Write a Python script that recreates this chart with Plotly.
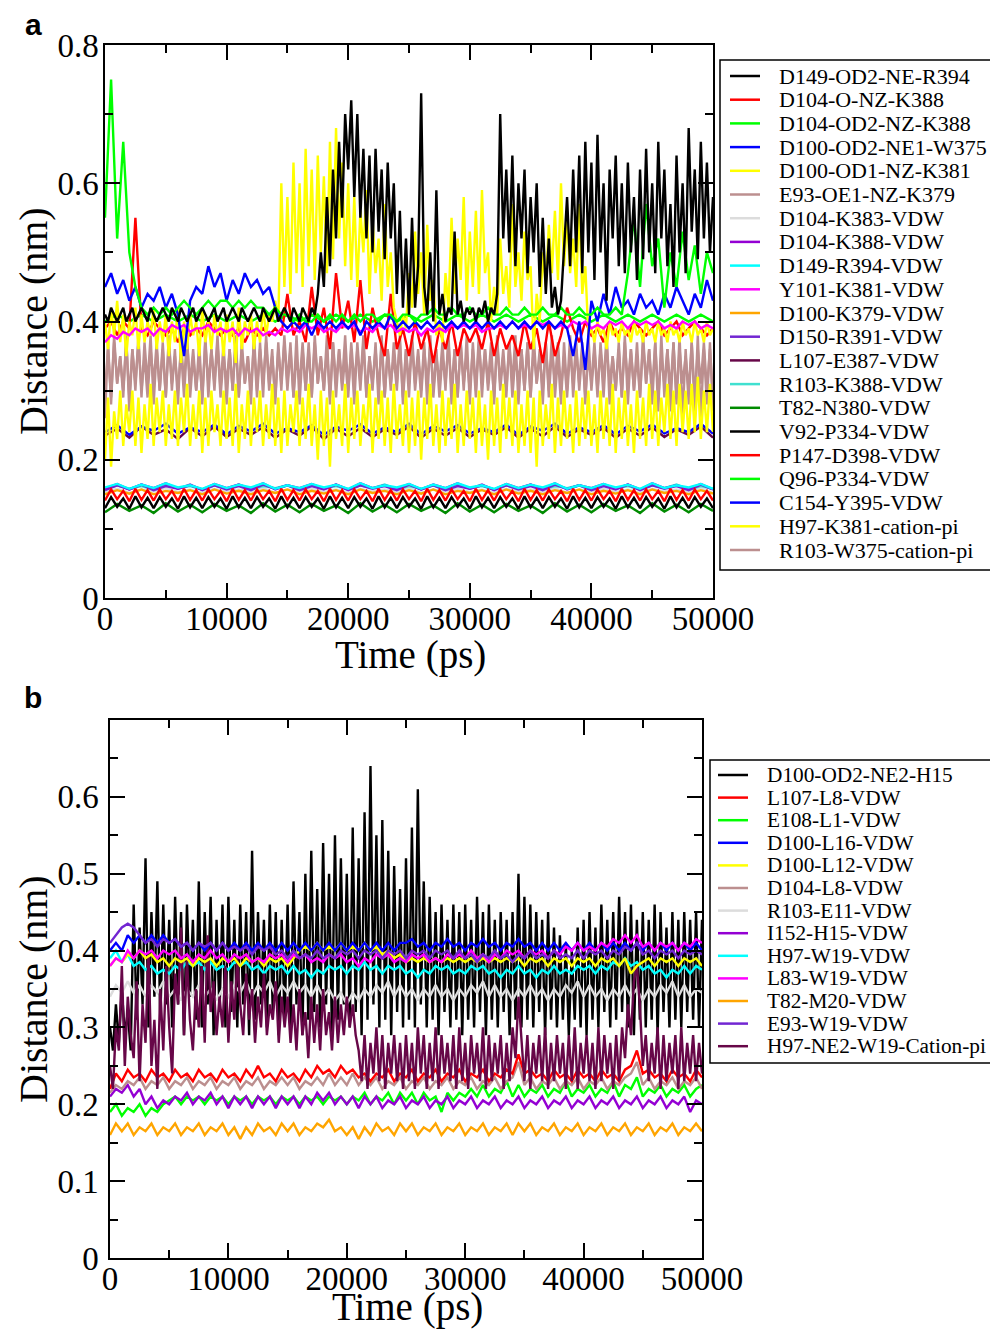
import plotly.graph_objects as go

# the page puts the figure 8 px in from the window corner
OFF = 8
FW, FH = 990, 1322

# ---------------- panel a data (nm vs ps) ----------------
t_fine = list(range(0, 50001, 250))   # 201 samples
t_mid = list(range(0, 50001, 500))    # 101 samples
t_lo = list(range(0, 50001, 1000))    # 51 samples

names_a = ["D149-OD2-NE-R394", "D104-O-NZ-K388", "D104-OD2-NZ-K388", "D100-OD2-NE1-W375",
           "D100-OD1-NZ-K381", "E93-OE1-NZ-K379", "D104-K383-VDW", "D104-K388-VDW",
           "D149-R394-VDW", "Y101-K381-VDW", "D100-K379-VDW", "D150-R391-VDW",
           "L107-E387-VDW", "R103-K388-VDW", "T82-N380-VDW", "V92-P334-VDW",
           "P147-D398-VDW", "Q96-P334-VDW", "C154-Y395-VDW", "H97-K381-cation-pi",
           "R103-W375-cation-pi"]

d149_od2_ne_r394 = [0.41, 0.40, 0.42, 0.41, 0.40, 0.41, 0.42, 0.40, 0.41, 0.42, 0.40, 0.41, 0.42, 0.41, 0.40, 0.42, 0.41, 0.40, 0.41, 0.42,
                    0.41, 0.40, 0.42, 0.41, 0.40, 0.42, 0.41, 0.40, 0.41, 0.42, 0.40, 0.41, 0.42, 0.41, 0.40, 0.41, 0.42, 0.40, 0.41, 0.42,
                    0.40, 0.41, 0.42, 0.41, 0.40, 0.42, 0.41, 0.40, 0.41, 0.42, 0.41, 0.40, 0.42, 0.41, 0.40, 0.41, 0.42, 0.40, 0.41, 0.42,
                    0.41, 0.40, 0.42, 0.41, 0.40, 0.42, 0.41, 0.40, 0.42, 0.41, 0.44, 0.50, 0.45, 0.58, 0.48, 0.62, 0.52, 0.66, 0.55, 0.70,
                    0.62, 0.72, 0.58, 0.70, 0.55, 0.65, 0.52, 0.64, 0.50, 0.65, 0.53, 0.62, 0.49, 0.63, 0.52, 0.60, 0.44, 0.56, 0.42, 0.52,
                    0.41, 0.55, 0.42, 0.48, 0.73, 0.45, 0.41, 0.50, 0.40, 0.59, 0.41, 0.44, 0.40, 0.42, 0.41, 0.53, 0.41, 0.43, 0.40, 0.42,
                    0.41, 0.42, 0.40, 0.42, 0.41, 0.43, 0.40, 0.42, 0.41, 0.44, 0.70, 0.52, 0.62, 0.50, 0.64, 0.48, 0.60, 0.52, 0.62, 0.47,
                    0.58, 0.50, 0.60, 0.45, 0.55, 0.44, 0.52, 0.42, 0.45, 0.41, 0.43, 0.50, 0.58, 0.48, 0.62, 0.50, 0.64, 0.47, 0.66, 0.50,
                    0.63, 0.46, 0.67, 0.50, 0.60, 0.43, 0.62, 0.52, 0.64, 0.48, 0.60, 0.47, 0.63, 0.50, 0.58, 0.46, 0.62, 0.49, 0.65, 0.50,
                    0.60, 0.47, 0.66, 0.52, 0.62, 0.48, 0.57, 0.45, 0.64, 0.50, 0.60, 0.47, 0.68, 0.53, 0.62, 0.49, 0.66, 0.52, 0.63, 0.50,
                    0.58]
d104_o_nz_k388 = [0.39, 0.40, 0.38, 0.40, 0.39, 0.55, 0.39, 0.38, 0.40, 0.39,
                  0.38, 0.39, 0.37, 0.39, 0.38, 0.39, 0.38, 0.40, 0.39, 0.38,
                  0.39, 0.38, 0.39, 0.37, 0.39, 0.38, 0.39, 0.38, 0.39, 0.38,
                  0.44, 0.38, 0.40, 0.37, 0.45, 0.38, 0.42, 0.36, 0.47, 0.39,
                  0.43, 0.37, 0.46, 0.36, 0.42, 0.38, 0.35, 0.44, 0.36, 0.39,
                  0.35, 0.40, 0.36, 0.39, 0.34, 0.39, 0.36, 0.40, 0.35, 0.39,
                  0.37, 0.39, 0.36, 0.40, 0.35, 0.39, 0.36, 0.38, 0.35, 0.40,
                  0.36, 0.39, 0.34, 0.40, 0.35, 0.38, 0.42, 0.39, 0.37, 0.40,
                  0.38, 0.39, 0.37, 0.40, 0.38, 0.39, 0.38, 0.40, 0.39, 0.38,
                  0.39, 0.40, 0.38, 0.39, 0.40, 0.38, 0.39, 0.40, 0.39, 0.38, 0.39]
d104_od2_nz_k388 = [0.55, 0.75, 0.52, 0.66, 0.50, 0.45, 0.42, 0.41, 0.42, 0.41,
                    0.42, 0.41, 0.42, 0.43, 0.42, 0.41, 0.42, 0.43, 0.42, 0.43,
                    0.43, 0.42, 0.43, 0.42, 0.43, 0.42, 0.42, 0.41, 0.42, 0.41,
                    0.41, 0.40, 0.41, 0.40, 0.40, 0.41, 0.40, 0.41, 0.40, 0.41,
                    0.40, 0.41, 0.40, 0.41, 0.41, 0.40, 0.41, 0.41, 0.40, 0.41,
                    0.41, 0.40, 0.41, 0.41, 0.42, 0.41, 0.41, 0.42, 0.41, 0.41,
                    0.42, 0.41, 0.41, 0.42, 0.41, 0.41, 0.42, 0.41, 0.41, 0.42,
                    0.41, 0.41, 0.42, 0.41, 0.41, 0.42, 0.41, 0.41, 0.42, 0.41,
                    0.41, 0.42, 0.41, 0.41, 0.42, 0.41, 0.47, 0.55, 0.45, 0.57,
                    0.48, 0.52, 0.42, 0.50, 0.45, 0.53, 0.46, 0.51, 0.44, 0.50, 0.47]
d100_od2_ne1_w375 = [0.45, 0.47, 0.44, 0.46, 0.43, 0.45, 0.42, 0.44, 0.43, 0.45,
                     0.42, 0.44, 0.41, 0.35, 0.43, 0.45, 0.44, 0.48, 0.45, 0.47,
                     0.43, 0.46, 0.44, 0.47, 0.45, 0.46, 0.44, 0.45, 0.42, 0.40,
                     0.39, 0.40, 0.39, 0.40, 0.38, 0.40, 0.39, 0.40, 0.39, 0.40,
                     0.39, 0.40, 0.38, 0.40, 0.39, 0.40, 0.39, 0.41, 0.39, 0.40,
                     0.39, 0.40, 0.39, 0.40, 0.39, 0.40, 0.39, 0.40, 0.39, 0.40,
                     0.39, 0.40, 0.39, 0.40, 0.39, 0.40, 0.39, 0.40, 0.39, 0.40,
                     0.39, 0.40, 0.39, 0.40, 0.39, 0.40, 0.39, 0.35, 0.40, 0.33,
                     0.43, 0.40, 0.44, 0.41, 0.45, 0.42, 0.43, 0.41, 0.44, 0.42,
                     0.43, 0.41, 0.44, 0.42, 0.45, 0.43, 0.41, 0.44, 0.42, 0.46, 0.43]
d100_od1_nz_k381 = [0.40, 0.36, 0.42, 0.38, 0.43, 0.37, 0.41, 0.35, 0.40, 0.38, 0.42, 0.36, 0.41, 0.37, 0.40, 0.38, 0.42, 0.36, 0.40, 0.37,
                    0.41, 0.35, 0.40, 0.37, 0.42, 0.34, 0.40, 0.36, 0.41, 0.38, 0.40, 0.35, 0.42, 0.37, 0.40, 0.36, 0.41, 0.38, 0.40, 0.35,
                    0.41, 0.37, 0.40, 0.34, 0.42, 0.36, 0.40, 0.38, 0.41, 0.36, 0.40, 0.37, 0.42, 0.38, 0.41, 0.40, 0.43, 0.40, 0.60, 0.45,
                    0.58, 0.44, 0.63, 0.47, 0.60, 0.45, 0.65, 0.48, 0.62, 0.46, 0.64, 0.50, 0.61, 0.47, 0.66, 0.49, 0.68, 0.52, 0.63, 0.48,
                    0.60, 0.46, 0.58, 0.45, 0.56, 0.50, 0.59, 0.44, 0.55, 0.47, 0.52, 0.43, 0.57, 0.45, 0.50, 0.42, 0.40, 0.38, 0.41, 0.39,
                    0.47, 0.42, 0.53, 0.44, 0.50, 0.41, 0.54, 0.43, 0.46, 0.38, 0.40, 0.37, 0.47, 0.42, 0.55, 0.44, 0.52, 0.46, 0.58, 0.43,
                    0.53, 0.45, 0.56, 0.44, 0.59, 0.47, 0.50, 0.40, 0.45, 0.41, 0.52, 0.44, 0.48, 0.42, 0.57, 0.45, 0.50, 0.43, 0.53, 0.46,
                    0.48, 0.36, 0.44, 0.40, 0.50, 0.45, 0.54, 0.47, 0.56, 0.46, 0.60, 0.48, 0.55, 0.47, 0.52, 0.45, 0.57, 0.44, 0.48, 0.38,
                    0.39, 0.37, 0.40, 0.38, 0.39, 0.36, 0.40, 0.38, 0.39, 0.37, 0.40, 0.38, 0.39, 0.37, 0.40, 0.38, 0.39, 0.37, 0.40, 0.38,
                    0.39, 0.37, 0.40, 0.38, 0.39, 0.37, 0.40, 0.38, 0.39, 0.37, 0.40, 0.38, 0.39, 0.37, 0.40, 0.38, 0.39, 0.37, 0.40, 0.38,
                    0.39]
e93_oe1_nz_k379 = [0.26, 0.37, 0.28, 0.38, 0.31, 0.35, 0.29, 0.38, 0.27, 0.36, 0.30, 0.38, 0.29, 0.37, 0.31, 0.38, 0.28, 0.36, 0.30, 0.37,
                   0.29, 0.38, 0.30, 0.36, 0.28, 0.37, 0.31, 0.38, 0.29, 0.35, 0.30, 0.37, 0.28, 0.38, 0.29, 0.36, 0.31, 0.38, 0.30, 0.37,
                   0.28, 0.36, 0.30, 0.38, 0.29, 0.37, 0.31, 0.35, 0.28, 0.38, 0.30, 0.37, 0.29, 0.38, 0.31, 0.36, 0.28, 0.37, 0.30, 0.38,
                   0.31, 0.37, 0.29, 0.38, 0.28, 0.36, 0.30, 0.37, 0.29, 0.38, 0.31, 0.35, 0.30, 0.38, 0.28, 0.37, 0.29, 0.36, 0.31, 0.38,
                   0.30, 0.36, 0.28, 0.37, 0.31, 0.38, 0.29, 0.35, 0.30, 0.37, 0.28, 0.38, 0.29, 0.36, 0.30, 0.37, 0.31, 0.38, 0.28, 0.36,
                   0.29, 0.38, 0.31, 0.36, 0.30, 0.37, 0.28, 0.38, 0.29, 0.35, 0.31, 0.37, 0.30, 0.38, 0.28, 0.36, 0.29, 0.37, 0.30, 0.38,
                   0.28, 0.37, 0.30, 0.38, 0.29, 0.36, 0.31, 0.37, 0.28, 0.38, 0.30, 0.35, 0.29, 0.37, 0.31, 0.38, 0.28, 0.36, 0.30, 0.37,
                   0.29, 0.38, 0.31, 0.36, 0.28, 0.37, 0.30, 0.38, 0.29, 0.35, 0.28, 0.37, 0.30, 0.38, 0.29, 0.36, 0.31, 0.37, 0.28, 0.38,
                   0.30, 0.36, 0.29, 0.37, 0.31, 0.38, 0.28, 0.35, 0.30, 0.37, 0.29, 0.38, 0.28, 0.36, 0.30, 0.37, 0.29, 0.38, 0.31, 0.36,
                   0.28, 0.37, 0.27, 0.38, 0.29, 0.36, 0.27, 0.37, 0.28, 0.38, 0.26, 0.36, 0.28, 0.37, 0.27, 0.38, 0.26, 0.36, 0.28, 0.37,
                   0.27]
d104_k383_vdw = [0.153, 0.158, 0.152, 0.157, 0.154, 0.159, 0.153, 0.157, 0.152, 0.158,
                 0.154, 0.157, 0.153, 0.159, 0.152, 0.157, 0.154, 0.158, 0.153, 0.157,
                 0.152, 0.158, 0.154, 0.157, 0.153, 0.159, 0.152, 0.157, 0.154, 0.158,
                 0.153, 0.157, 0.152, 0.158, 0.154, 0.157, 0.153, 0.159, 0.152, 0.157,
                 0.154, 0.158, 0.153, 0.157, 0.152, 0.158, 0.154, 0.157, 0.153, 0.159, 0.152]
d104_k388_vdw = [0.158, 0.165, 0.157, 0.164, 0.159, 0.166, 0.158, 0.163, 0.157, 0.165,
                 0.159, 0.164, 0.158, 0.166, 0.157, 0.163, 0.159, 0.165, 0.158, 0.164,
                 0.157, 0.166, 0.159, 0.163, 0.158, 0.165, 0.157, 0.164, 0.159, 0.166,
                 0.158, 0.163, 0.157, 0.165, 0.159, 0.164, 0.158, 0.166, 0.157, 0.163,
                 0.159, 0.165, 0.158, 0.164, 0.157, 0.166, 0.159, 0.163, 0.158, 0.165, 0.157]
d149_r394_vdw = [0.160, 0.165, 0.158, 0.164, 0.159, 0.166, 0.160, 0.163, 0.158, 0.165,
                 0.159, 0.164, 0.160, 0.166, 0.158, 0.163, 0.159, 0.165, 0.160, 0.164,
                 0.158, 0.166, 0.159, 0.163, 0.160, 0.165, 0.158, 0.164, 0.159, 0.166,
                 0.160, 0.163, 0.158, 0.165, 0.159, 0.164, 0.160, 0.166, 0.158, 0.163,
                 0.159, 0.165, 0.160, 0.164, 0.158, 0.166, 0.159, 0.163, 0.160, 0.165, 0.158]
y101_k381_vdw = [0.37, 0.38, 0.375, 0.385, 0.38, 0.39, 0.385, 0.39, 0.38, 0.39,
                 0.385, 0.395, 0.39, 0.395, 0.385, 0.39, 0.39, 0.395, 0.385, 0.39,
                 0.385, 0.39, 0.38, 0.39, 0.385, 0.39, 0.38, 0.385, 0.38, 0.39,
                 0.385, 0.39, 0.385, 0.395, 0.39, 0.395, 0.385, 0.39, 0.385, 0.395,
                 0.39, 0.395, 0.385, 0.39, 0.385, 0.395, 0.39, 0.395, 0.385, 0.39,
                 0.385, 0.39, 0.38, 0.39, 0.385, 0.39, 0.385, 0.395, 0.39, 0.395,
                 0.39, 0.395, 0.385, 0.39, 0.39, 0.395, 0.39, 0.40, 0.39, 0.395,
                 0.39, 0.40, 0.395, 0.40, 0.39, 0.395, 0.39, 0.40, 0.395, 0.40,
                 0.39, 0.395, 0.39, 0.40, 0.395, 0.40, 0.39, 0.40, 0.395, 0.40,
                 0.395, 0.40, 0.39, 0.395, 0.39, 0.40, 0.395, 0.40, 0.39, 0.395, 0.39]
d100_k379_vdw = [0.150, 0.156, 0.151, 0.157, 0.150, 0.155, 0.152, 0.156, 0.150, 0.157,
                 0.151, 0.155, 0.150, 0.156, 0.152, 0.157, 0.150, 0.155, 0.151, 0.156,
                 0.150, 0.157, 0.152, 0.155, 0.150, 0.156, 0.151, 0.157, 0.150, 0.155,
                 0.152, 0.156, 0.150, 0.157, 0.151, 0.155, 0.150, 0.156, 0.152, 0.157,
                 0.150, 0.155, 0.151, 0.156, 0.150, 0.157, 0.152, 0.155, 0.150, 0.156, 0.151]
d150_r391_vdw = [0.156, 0.163, 0.157, 0.164, 0.156, 0.162, 0.158, 0.164, 0.156, 0.163,
                 0.157, 0.162, 0.156, 0.164, 0.158, 0.163, 0.156, 0.162, 0.157, 0.164,
                 0.156, 0.163, 0.158, 0.162, 0.156, 0.164, 0.157, 0.163, 0.156, 0.162,
                 0.158, 0.164, 0.156, 0.163, 0.157, 0.162, 0.156, 0.164, 0.158, 0.163,
                 0.156, 0.162, 0.157, 0.164, 0.156, 0.163, 0.158, 0.162, 0.156, 0.164, 0.157]
l107_e387_vdw = [0.235, 0.245, 0.232, 0.248, 0.236, 0.244, 0.230, 0.246, 0.234, 0.248,
                 0.233, 0.245, 0.236, 0.247, 0.232, 0.244, 0.235, 0.248, 0.230, 0.245,
                 0.234, 0.246, 0.233, 0.244, 0.236, 0.248, 0.232, 0.245, 0.235, 0.246,
                 0.233, 0.244, 0.236, 0.247, 0.232, 0.245, 0.234, 0.248, 0.233, 0.244,
                 0.236, 0.246, 0.232, 0.245, 0.235, 0.247, 0.233, 0.244, 0.236, 0.248, 0.232]
r103_k388_vdw = [0.157, 0.163, 0.158, 0.162, 0.157, 0.164, 0.159, 0.162, 0.157, 0.163,
                 0.158, 0.164, 0.157, 0.162, 0.159, 0.163, 0.157, 0.164, 0.158, 0.162,
                 0.157, 0.163, 0.159, 0.164, 0.157, 0.162, 0.158, 0.163, 0.157, 0.164,
                 0.159, 0.162, 0.157, 0.163, 0.158, 0.164, 0.157, 0.162, 0.159, 0.163,
                 0.157, 0.164, 0.158, 0.162, 0.157, 0.163, 0.159, 0.164, 0.157, 0.162, 0.158]
t82_n380_vdw = [0.124, 0.136, 0.126, 0.134, 0.123, 0.137, 0.125, 0.135, 0.124, 0.136,
                0.126, 0.134, 0.123, 0.137, 0.125, 0.135, 0.124, 0.136, 0.126, 0.134,
                0.123, 0.137, 0.125, 0.135, 0.124, 0.136, 0.126, 0.134, 0.123, 0.137,
                0.125, 0.135, 0.124, 0.136, 0.126, 0.134, 0.123, 0.137, 0.125, 0.135,
                0.124, 0.136, 0.126, 0.134, 0.123, 0.137, 0.125, 0.135, 0.124, 0.136, 0.126]
v92_p334_vdw = [0.130, 0.146, 0.132, 0.144, 0.129, 0.147, 0.131, 0.145, 0.130, 0.146,
                0.132, 0.144, 0.129, 0.147, 0.131, 0.145, 0.130, 0.146, 0.132, 0.144,
                0.129, 0.147, 0.131, 0.145, 0.130, 0.146, 0.132, 0.144, 0.129, 0.147,
                0.131, 0.145, 0.130, 0.146, 0.132, 0.144, 0.129, 0.147, 0.131, 0.145,
                0.130, 0.146, 0.132, 0.144, 0.129, 0.147, 0.131, 0.145, 0.130, 0.146,
                0.132, 0.144, 0.129, 0.147, 0.131, 0.145, 0.130, 0.146, 0.132, 0.144,
                0.129, 0.147, 0.131, 0.145, 0.130, 0.146, 0.132, 0.144, 0.129, 0.147,
                0.131, 0.145, 0.130, 0.146, 0.132, 0.144, 0.129, 0.147, 0.131, 0.145,
                0.130, 0.146, 0.132, 0.144, 0.129, 0.147, 0.131, 0.145, 0.130, 0.146,
                0.132, 0.144, 0.129, 0.147, 0.131, 0.145, 0.130, 0.146, 0.132, 0.144, 0.130]
p147_d398_vdw = [0.141, 0.157, 0.143, 0.155, 0.140, 0.158, 0.142, 0.156, 0.141, 0.157,
                 0.143, 0.155, 0.140, 0.158, 0.142, 0.156, 0.141, 0.157, 0.143, 0.155,
                 0.140, 0.158, 0.142, 0.156, 0.141, 0.157, 0.143, 0.155, 0.140, 0.158,
                 0.142, 0.156, 0.141, 0.157, 0.143, 0.155, 0.140, 0.158, 0.142, 0.156,
                 0.141, 0.157, 0.143, 0.155, 0.140, 0.158, 0.142, 0.156, 0.141, 0.157,
                 0.143, 0.155, 0.140, 0.158, 0.142, 0.156, 0.141, 0.157, 0.143, 0.155,
                 0.140, 0.158, 0.142, 0.156, 0.141, 0.157, 0.143, 0.155, 0.140, 0.158,
                 0.142, 0.156, 0.141, 0.157, 0.143, 0.155, 0.140, 0.158, 0.142, 0.156,
                 0.141, 0.157, 0.143, 0.155, 0.140, 0.158, 0.142, 0.156, 0.141, 0.157,
                 0.143, 0.155, 0.140, 0.158, 0.142, 0.156, 0.141, 0.157, 0.143, 0.155, 0.141]
q96_p334_vdw = [0.40, 0.41, 0.40, 0.41, 0.40, 0.41, 0.40, 0.41, 0.40, 0.41,
                0.40, 0.41, 0.40, 0.41, 0.40, 0.41, 0.40, 0.41, 0.40, 0.41,
                0.40, 0.41, 0.40, 0.41, 0.40, 0.41, 0.40, 0.41, 0.40, 0.41,
                0.40, 0.41, 0.40, 0.41, 0.40, 0.41, 0.40, 0.41, 0.40, 0.41,
                0.40, 0.41, 0.40, 0.41, 0.40, 0.41, 0.40, 0.41, 0.40, 0.41, 0.40]
c154_y395_vdw = [0.240, 0.250, 0.236, 0.248, 0.242, 0.252, 0.238, 0.247, 0.240, 0.251,
                 0.237, 0.249, 0.241, 0.252, 0.238, 0.246, 0.240, 0.250, 0.236, 0.248,
                 0.242, 0.251, 0.238, 0.247, 0.240, 0.252, 0.237, 0.249, 0.241, 0.250,
                 0.238, 0.246, 0.240, 0.251, 0.236, 0.248, 0.242, 0.252, 0.238, 0.247,
                 0.240, 0.250, 0.237, 0.249, 0.241, 0.251, 0.238, 0.246, 0.240, 0.252, 0.238]
h97_k381_cation_pi = [0.20, 0.29, 0.19, 0.27, 0.23, 0.30, 0.22, 0.28, 0.24, 0.30, 0.22, 0.29, 0.21, 0.28, 0.23, 0.31, 0.22, 0.29, 0.24, 0.30,
                      0.22, 0.28, 0.23, 0.30, 0.22, 0.29, 0.24, 0.31, 0.22, 0.28, 0.23, 0.30, 0.21, 0.29, 0.22, 0.30, 0.24, 0.28, 0.22, 0.30,
                      0.23, 0.29, 0.22, 0.31, 0.21, 0.28, 0.23, 0.30, 0.22, 0.29, 0.24, 0.30, 0.22, 0.28, 0.23, 0.31, 0.22, 0.29, 0.21, 0.30,
                      0.22, 0.28, 0.24, 0.30, 0.22, 0.29, 0.23, 0.31, 0.22, 0.28, 0.20, 0.30, 0.22, 0.29, 0.19, 0.30, 0.23, 0.28, 0.22, 0.31,
                      0.21, 0.29, 0.23, 0.30, 0.22, 0.28, 0.24, 0.31, 0.21, 0.29, 0.23, 0.30, 0.22, 0.29, 0.21, 0.31, 0.23, 0.28, 0.22, 0.30,
                      0.21, 0.29, 0.22, 0.30, 0.20, 0.29, 0.23, 0.31, 0.22, 0.28, 0.21, 0.30, 0.22, 0.29, 0.23, 0.31, 0.21, 0.28, 0.22, 0.30,
                      0.23, 0.29, 0.21, 0.30, 0.22, 0.28, 0.20, 0.30, 0.22, 0.29, 0.21, 0.31, 0.23, 0.29, 0.22, 0.30, 0.21, 0.28, 0.22, 0.30,
                      0.21, 0.29, 0.19, 0.30, 0.22, 0.28, 0.23, 0.31, 0.21, 0.29, 0.22, 0.30, 0.23, 0.28, 0.21, 0.30, 0.22, 0.29, 0.23, 0.30,
                      0.22, 0.28, 0.21, 0.30, 0.23, 0.29, 0.22, 0.31, 0.21, 0.29, 0.23, 0.30, 0.22, 0.28, 0.21, 0.30, 0.23, 0.29, 0.22, 0.31,
                      0.23, 0.30, 0.22, 0.29, 0.24, 0.31, 0.23, 0.30, 0.22, 0.31, 0.24, 0.30, 0.23, 0.31, 0.24, 0.32, 0.23, 0.30, 0.24, 0.31,
                      0.24]
r103_w375_cation_pi = [0.30, 0.36, 0.29, 0.37, 0.31, 0.35, 0.30, 0.37, 0.29, 0.36, 0.31, 0.37, 0.30, 0.35, 0.29, 0.36, 0.31, 0.37, 0.30, 0.36,
                       0.29, 0.37, 0.31, 0.35, 0.30, 0.36, 0.29, 0.37, 0.31, 0.36, 0.30, 0.35, 0.29, 0.37, 0.31, 0.36, 0.30, 0.37, 0.29, 0.35,
                       0.31, 0.36, 0.30, 0.37, 0.29, 0.36, 0.31, 0.35, 0.30, 0.37, 0.29, 0.36, 0.31, 0.37, 0.30, 0.35, 0.29, 0.36, 0.31, 0.37,
                       0.30, 0.36, 0.29, 0.35, 0.31, 0.37, 0.30, 0.36, 0.29, 0.37, 0.31, 0.35, 0.30, 0.36, 0.29, 0.37, 0.31, 0.36, 0.30, 0.35,
                       0.29, 0.37, 0.31, 0.36, 0.30, 0.37, 0.29, 0.35, 0.31, 0.36, 0.30, 0.37, 0.29, 0.36, 0.31, 0.35, 0.30, 0.37, 0.29, 0.36,
                       0.31, 0.37, 0.30, 0.35, 0.29, 0.36, 0.31, 0.37, 0.30, 0.36, 0.29, 0.35, 0.31, 0.37, 0.30, 0.36, 0.29, 0.37, 0.31, 0.35,
                       0.30, 0.36, 0.29, 0.37, 0.31, 0.36, 0.30, 0.35, 0.29, 0.37, 0.31, 0.36, 0.30, 0.37, 0.29, 0.35, 0.31, 0.36, 0.30, 0.37,
                       0.29, 0.36, 0.31, 0.35, 0.30, 0.37, 0.29, 0.36, 0.31, 0.37, 0.30, 0.35, 0.29, 0.36, 0.31, 0.37, 0.30, 0.36, 0.29, 0.35,
                       0.31, 0.37, 0.30, 0.36, 0.29, 0.37, 0.31, 0.35, 0.30, 0.36, 0.29, 0.37, 0.31, 0.36, 0.30, 0.35, 0.29, 0.37, 0.31, 0.36,
                       0.30, 0.37, 0.29, 0.35, 0.31, 0.36, 0.30, 0.37, 0.29, 0.36, 0.31, 0.35, 0.30, 0.37, 0.29, 0.36, 0.31, 0.37, 0.30, 0.36,
                       0.29]

# ---------------- panel b data ----------------
names_b = ["D100-OD2-NE2-H15", "L107-L8-VDW", "E108-L1-VDW", "D100-L16-VDW", "D100-L12-VDW",
           "D104-L8-VDW", "R103-E11-VDW", "I152-H15-VDW", "H97-W19-VDW", "L83-W19-VDW",
           "T82-M20-VDW", "E93-W19-VDW", "H97-NE2-W19-Cation-pi"]

d100_od2_ne2_h15 = [0.30, 0.27, 0.33, 0.28, 0.35, 0.29, 0.32, 0.27, 0.46, 0.31, 0.43, 0.33, 0.52, 0.30, 0.45, 0.34, 0.49, 0.31, 0.46, 0.33,
                    0.44, 0.30, 0.47, 0.33, 0.45, 0.29, 0.46, 0.34, 0.44, 0.31, 0.49, 0.30, 0.45, 0.33, 0.47, 0.29, 0.44, 0.32, 0.46, 0.30,
                    0.47, 0.32, 0.44, 0.30, 0.46, 0.33, 0.45, 0.29, 0.53, 0.31, 0.45, 0.33, 0.44, 0.30, 0.46, 0.32, 0.45, 0.29, 0.44, 0.31,
                    0.46, 0.30, 0.49, 0.33, 0.45, 0.29, 0.50, 0.31, 0.53, 0.32, 0.48, 0.30, 0.54, 0.33, 0.50, 0.29, 0.55, 0.31, 0.52, 0.33,
                    0.50, 0.30, 0.56, 0.32, 0.52, 0.29, 0.58, 0.31, 0.64, 0.33, 0.55, 0.30, 0.57, 0.31, 0.53, 0.29, 0.51, 0.32, 0.48, 0.30,
                    0.52, 0.31, 0.56, 0.30, 0.61, 0.33, 0.49, 0.30, 0.47, 0.31, 0.45, 0.29, 0.46, 0.32, 0.44, 0.30, 0.46, 0.31, 0.45, 0.29,
                    0.46, 0.31, 0.44, 0.30, 0.47, 0.32, 0.45, 0.29, 0.46, 0.31, 0.44, 0.30, 0.45, 0.32, 0.44, 0.29, 0.45, 0.31, 0.50, 0.30,
                    0.47, 0.31, 0.46, 0.30, 0.45, 0.32, 0.44, 0.29, 0.45, 0.31, 0.43, 0.30, 0.42, 0.31, 0.41, 0.29, 0.40, 0.31, 0.43, 0.30,
                    0.44, 0.29, 0.45, 0.31, 0.43, 0.30, 0.46, 0.32, 0.44, 0.30, 0.45, 0.31, 0.47, 0.32, 0.45, 0.30, 0.46, 0.29, 0.44, 0.31,
                    0.45, 0.30, 0.44, 0.31, 0.46, 0.29, 0.45, 0.32, 0.43, 0.30, 0.45, 0.31, 0.44, 0.30, 0.45, 0.32, 0.44, 0.31, 0.45, 0.30,
                    0.44]
l107_l8_vdw = [0.22, 0.24, 0.23, 0.245, 0.235, 0.24, 0.23, 0.245, 0.235, 0.24,
               0.23, 0.245, 0.235, 0.24, 0.23, 0.245, 0.235, 0.24, 0.23, 0.245,
               0.235, 0.24, 0.23, 0.245, 0.235, 0.25, 0.235, 0.24, 0.23, 0.245,
               0.235, 0.24, 0.23, 0.245, 0.235, 0.25, 0.24, 0.245, 0.235, 0.25,
               0.24, 0.245, 0.235, 0.24, 0.23, 0.24, 0.235, 0.245, 0.23, 0.24,
               0.235, 0.245, 0.23, 0.24, 0.235, 0.245, 0.23, 0.24, 0.235, 0.245,
               0.23, 0.24, 0.235, 0.245, 0.23, 0.24, 0.235, 0.245, 0.24, 0.265,
               0.24, 0.245, 0.235, 0.24, 0.23, 0.245, 0.235, 0.24, 0.23, 0.245,
               0.235, 0.24, 0.23, 0.245, 0.235, 0.24, 0.23, 0.245, 0.25, 0.27,
               0.24, 0.245, 0.235, 0.24, 0.23, 0.245, 0.235, 0.24, 0.23, 0.245, 0.235]
e108_l1_vdw = [0.19, 0.20, 0.185, 0.195, 0.19, 0.20, 0.185, 0.195, 0.19, 0.20,
               0.205, 0.21, 0.20, 0.21, 0.205, 0.21, 0.20, 0.21, 0.205, 0.21,
               0.20, 0.21, 0.205, 0.21, 0.20, 0.21, 0.205, 0.21, 0.20, 0.21,
               0.205, 0.21, 0.20, 0.21, 0.205, 0.21, 0.20, 0.21, 0.205, 0.21,
               0.20, 0.21, 0.205, 0.215, 0.20, 0.21, 0.205, 0.215, 0.20, 0.215,
               0.205, 0.215, 0.20, 0.215, 0.205, 0.21, 0.19, 0.215, 0.205, 0.215,
               0.21, 0.22, 0.21, 0.225, 0.21, 0.22, 0.215, 0.23, 0.21, 0.225,
               0.21, 0.22, 0.215, 0.225, 0.21, 0.22, 0.215, 0.23, 0.21, 0.22,
               0.215, 0.225, 0.21, 0.22, 0.215, 0.23, 0.21, 0.225, 0.22, 0.235,
               0.21, 0.22, 0.215, 0.225, 0.21, 0.22, 0.215, 0.225, 0.21, 0.22, 0.225]
d100_l16_vdw = [0.40, 0.41, 0.40, 0.42, 0.41, 0.42, 0.41, 0.42, 0.41, 0.42,
                0.41, 0.415, 0.405, 0.41, 0.40, 0.41, 0.40, 0.41, 0.40, 0.41,
                0.40, 0.41, 0.40, 0.41, 0.40, 0.41, 0.40, 0.41, 0.40, 0.41,
                0.40, 0.41, 0.40, 0.41, 0.40, 0.41, 0.40, 0.41, 0.40, 0.41,
                0.40, 0.41, 0.40, 0.41, 0.40, 0.41, 0.40, 0.41, 0.40, 0.41,
                0.41, 0.415, 0.405, 0.41, 0.40, 0.41, 0.405, 0.415, 0.405, 0.41,
                0.40, 0.41, 0.405, 0.415, 0.405, 0.41, 0.40, 0.41, 0.405, 0.415,
                0.405, 0.41, 0.40, 0.41, 0.40, 0.41, 0.40, 0.41, 0.40, 0.41,
                0.40, 0.41, 0.40, 0.41, 0.40, 0.41, 0.40, 0.41, 0.40, 0.41,
                0.40, 0.41, 0.40, 0.41, 0.40, 0.41, 0.40, 0.41, 0.40, 0.41, 0.40]
d100_l12_vdw = [0.38, 0.39, 0.385, 0.395, 0.39, 0.40, 0.39, 0.395, 0.385, 0.39,
                0.38, 0.39, 0.385, 0.39, 0.38, 0.39, 0.385, 0.39, 0.38, 0.39,
                0.385, 0.39, 0.38, 0.39, 0.385, 0.39, 0.38, 0.39, 0.385, 0.39,
                0.38, 0.39, 0.40, 0.405, 0.40, 0.41, 0.40, 0.405, 0.40, 0.41,
                0.40, 0.405, 0.40, 0.41, 0.40, 0.405, 0.395, 0.40, 0.39, 0.395,
                0.385, 0.39, 0.385, 0.39, 0.385, 0.39, 0.385, 0.39, 0.385, 0.39,
                0.385, 0.39, 0.385, 0.39, 0.385, 0.39, 0.385, 0.39, 0.385, 0.39,
                0.38, 0.39, 0.385, 0.39, 0.38, 0.39, 0.385, 0.39, 0.38, 0.39,
                0.385, 0.39, 0.38, 0.39, 0.385, 0.39, 0.38, 0.39, 0.37, 0.38,
                0.385, 0.39, 0.38, 0.39, 0.385, 0.39, 0.38, 0.39, 0.385, 0.39, 0.38]
d104_l8_vdw = [0.215, 0.225, 0.22, 0.23, 0.225, 0.235, 0.22, 0.23, 0.225, 0.235,
               0.22, 0.23, 0.225, 0.235, 0.22, 0.23, 0.225, 0.235, 0.22, 0.23,
               0.225, 0.235, 0.22, 0.23, 0.225, 0.235, 0.22, 0.23, 0.225, 0.235,
               0.225, 0.235, 0.22, 0.23, 0.225, 0.235, 0.225, 0.24, 0.225, 0.235,
               0.225, 0.24, 0.225, 0.235, 0.225, 0.235, 0.22, 0.23, 0.225, 0.235,
               0.22, 0.23, 0.225, 0.235, 0.22, 0.23, 0.225, 0.235, 0.22, 0.23,
               0.225, 0.235, 0.22, 0.23, 0.225, 0.235, 0.22, 0.23, 0.235, 0.255,
               0.225, 0.235, 0.22, 0.23, 0.225, 0.235, 0.22, 0.23, 0.225, 0.235,
               0.22, 0.23, 0.225, 0.235, 0.22, 0.23, 0.225, 0.235, 0.24, 0.255,
               0.225, 0.235, 0.22, 0.23, 0.225, 0.235, 0.22, 0.23, 0.225, 0.235, 0.22]
r103_e11_vdw = [0.34, 0.355, 0.345, 0.36, 0.345, 0.355, 0.34, 0.355, 0.345, 0.36,
                0.34, 0.35, 0.335, 0.35, 0.34, 0.355, 0.34, 0.35, 0.335, 0.35,
                0.34, 0.355, 0.345, 0.36, 0.34, 0.355, 0.345, 0.36, 0.34, 0.355,
                0.345, 0.36, 0.345, 0.355, 0.34, 0.355, 0.34, 0.35, 0.335, 0.345,
                0.33, 0.345, 0.335, 0.35, 0.34, 0.355, 0.345, 0.36, 0.34, 0.355,
                0.34, 0.35, 0.335, 0.35, 0.34, 0.355, 0.34, 0.35, 0.335, 0.35,
                0.34, 0.355, 0.345, 0.36, 0.34, 0.355, 0.34, 0.35, 0.335, 0.35,
                0.34, 0.355, 0.34, 0.35, 0.335, 0.35, 0.34, 0.355, 0.345, 0.36,
                0.34, 0.355, 0.34, 0.35, 0.335, 0.35, 0.34, 0.355, 0.34, 0.35,
                0.335, 0.35, 0.34, 0.355, 0.345, 0.36, 0.34, 0.355, 0.34, 0.35, 0.345]
i152_h15_vdw = [0.21, 0.22, 0.215, 0.225, 0.21, 0.22, 0.20, 0.21, 0.195, 0.205,
                0.20, 0.21, 0.205, 0.215, 0.20, 0.21, 0.205, 0.215, 0.20, 0.21,
                0.195, 0.21, 0.20, 0.21, 0.195, 0.21, 0.20, 0.21, 0.195, 0.21,
                0.20, 0.21, 0.195, 0.21, 0.20, 0.215, 0.205, 0.215, 0.20, 0.21,
                0.20, 0.21, 0.195, 0.21, 0.20, 0.21, 0.195, 0.205, 0.20, 0.21,
                0.195, 0.205, 0.20, 0.21, 0.195, 0.205, 0.20, 0.21, 0.195, 0.205,
                0.20, 0.21, 0.195, 0.205, 0.20, 0.21, 0.195, 0.205, 0.20, 0.21,
                0.195, 0.205, 0.20, 0.21, 0.195, 0.205, 0.20, 0.21, 0.195, 0.205,
                0.20, 0.21, 0.195, 0.205, 0.20, 0.21, 0.195, 0.205, 0.20, 0.21,
                0.195, 0.205, 0.20, 0.21, 0.195, 0.205, 0.20, 0.21, 0.19, 0.205, 0.20]
h97_w19_vdw = [0.39, 0.40, 0.385, 0.395, 0.38, 0.385, 0.375, 0.38, 0.37, 0.375,
               0.37, 0.38, 0.375, 0.385, 0.38, 0.385, 0.375, 0.385, 0.375, 0.38,
               0.375, 0.385, 0.38, 0.385, 0.375, 0.38, 0.37, 0.38, 0.375, 0.38,
               0.37, 0.38, 0.37, 0.375, 0.365, 0.375, 0.37, 0.38, 0.375, 0.38,
               0.37, 0.38, 0.375, 0.385, 0.375, 0.38, 0.37, 0.38, 0.375, 0.38,
               0.37, 0.375, 0.365, 0.375, 0.37, 0.38, 0.375, 0.38, 0.37, 0.375,
               0.37, 0.38, 0.375, 0.38, 0.37, 0.375, 0.365, 0.375, 0.37, 0.38,
               0.37, 0.375, 0.365, 0.375, 0.37, 0.38, 0.37, 0.375, 0.37, 0.38,
               0.375, 0.38, 0.37, 0.38, 0.375, 0.385, 0.38, 0.39, 0.38, 0.385,
               0.375, 0.38, 0.37, 0.375, 0.365, 0.375, 0.37, 0.38, 0.37, 0.38, 0.375]
l83_w19_vdw = [0.38, 0.39, 0.385, 0.40, 0.39, 0.40, 0.395, 0.40, 0.39, 0.40,
               0.395, 0.40, 0.39, 0.395, 0.385, 0.395, 0.39, 0.40, 0.39, 0.395,
               0.385, 0.395, 0.39, 0.395, 0.385, 0.39, 0.385, 0.395, 0.39, 0.395,
               0.385, 0.395, 0.39, 0.395, 0.385, 0.39, 0.385, 0.395, 0.39, 0.395,
               0.385, 0.39, 0.38, 0.39, 0.385, 0.395, 0.39, 0.395, 0.385, 0.39,
               0.385, 0.395, 0.39, 0.395, 0.385, 0.39, 0.385, 0.395, 0.39, 0.395,
               0.39, 0.40, 0.39, 0.395, 0.385, 0.395, 0.39, 0.40, 0.395, 0.40,
               0.39, 0.40, 0.395, 0.40, 0.39, 0.40, 0.395, 0.405, 0.40, 0.41,
               0.40, 0.405, 0.40, 0.41, 0.405, 0.415, 0.41, 0.42, 0.41, 0.42,
               0.405, 0.41, 0.40, 0.41, 0.405, 0.41, 0.40, 0.41, 0.405, 0.415, 0.41]
t82_m20_vdw = [0.16, 0.175, 0.165, 0.175, 0.16, 0.17, 0.165, 0.175, 0.16, 0.17,
               0.165, 0.175, 0.16, 0.17, 0.165, 0.175, 0.16, 0.17, 0.165, 0.175,
               0.16, 0.17, 0.155, 0.17, 0.16, 0.175, 0.165, 0.17, 0.16, 0.175,
               0.165, 0.175, 0.16, 0.17, 0.165, 0.175, 0.17, 0.18, 0.165, 0.17,
               0.16, 0.17, 0.155, 0.17, 0.16, 0.175, 0.165, 0.17, 0.16, 0.175,
               0.165, 0.175, 0.16, 0.17, 0.165, 0.175, 0.16, 0.17, 0.165, 0.175,
               0.16, 0.17, 0.165, 0.175, 0.16, 0.17, 0.165, 0.175, 0.16, 0.175,
               0.165, 0.175, 0.16, 0.17, 0.165, 0.175, 0.16, 0.17, 0.165, 0.175,
               0.16, 0.17, 0.165, 0.175, 0.16, 0.17, 0.165, 0.175, 0.16, 0.17,
               0.165, 0.175, 0.16, 0.17, 0.165, 0.175, 0.16, 0.17, 0.165, 0.175, 0.165]
e93_w19_vdw = [0.41, 0.42, 0.43, 0.435, 0.43, 0.42, 0.41, 0.415, 0.405, 0.415,
               0.41, 0.415, 0.405, 0.41, 0.40, 0.41, 0.405, 0.41, 0.40, 0.41,
               0.40, 0.405, 0.40, 0.405, 0.395, 0.405, 0.40, 0.405, 0.395, 0.40,
               0.39, 0.40, 0.39, 0.395, 0.39, 0.40, 0.39, 0.395, 0.39, 0.40,
               0.395, 0.40, 0.39, 0.40, 0.395, 0.40, 0.39, 0.40, 0.395, 0.40,
               0.39, 0.40, 0.395, 0.40, 0.39, 0.40, 0.395, 0.40, 0.39, 0.40,
               0.39, 0.395, 0.385, 0.395, 0.39, 0.40, 0.39, 0.395, 0.385, 0.395,
               0.39, 0.40, 0.39, 0.395, 0.39, 0.40, 0.39, 0.395, 0.39, 0.40,
               0.39, 0.40, 0.395, 0.40, 0.39, 0.40, 0.395, 0.405, 0.40, 0.41,
               0.395, 0.40, 0.39, 0.40, 0.395, 0.40, 0.39, 0.40, 0.395, 0.40, 0.395]
h97_ne2_w19_cation_pi = [0.25, 0.22, 0.30, 0.27, 0.38, 0.25, 0.34, 0.29, 0.26, 0.36, 0.23, 0.33, 0.28, 0.40, 0.25, 0.31, 0.22, 0.35, 0.27, 0.38,
                         0.30, 0.24, 0.37, 0.33, 0.43, 0.29, 0.39, 0.31, 0.27, 0.35, 0.30, 0.38, 0.28, 0.42, 0.32, 0.36, 0.29, 0.34, 0.30, 0.38,
                         0.28, 0.36, 0.31, 0.39, 0.33, 0.29, 0.37, 0.31, 0.35, 0.28, 0.34, 0.30, 0.37, 0.29, 0.33, 0.31, 0.36, 0.28, 0.34, 0.30,
                         0.34, 0.28, 0.33, 0.27, 0.35, 0.29, 0.32, 0.26, 0.34, 0.28, 0.33, 0.27, 0.35, 0.29, 0.32, 0.27, 0.34, 0.28, 0.33, 0.29,
                         0.34, 0.30, 0.33, 0.29, 0.27, 0.23, 0.29, 0.22, 0.28, 0.24, 0.30, 0.23, 0.29, 0.22, 0.28, 0.24, 0.29, 0.23, 0.28, 0.22,
                         0.29, 0.23, 0.28, 0.22, 0.30, 0.24, 0.29, 0.22, 0.28, 0.23, 0.30, 0.22, 0.29, 0.24, 0.28, 0.23, 0.29, 0.22, 0.30, 0.23,
                         0.28, 0.22, 0.29, 0.24, 0.28, 0.23, 0.30, 0.22, 0.29, 0.23, 0.28, 0.24, 0.29, 0.22, 0.28, 0.23, 0.30, 0.26, 0.34, 0.29,
                         0.23, 0.29, 0.22, 0.28, 0.24, 0.29, 0.23, 0.30, 0.22, 0.28, 0.23, 0.29, 0.24, 0.28, 0.22, 0.29, 0.23, 0.30, 0.22, 0.28,
                         0.24, 0.29, 0.23, 0.28, 0.22, 0.30, 0.23, 0.29, 0.24, 0.28, 0.22, 0.29, 0.23, 0.30, 0.26, 0.33, 0.29, 0.36, 0.38, 0.33,
                         0.25, 0.29, 0.23, 0.28, 0.24, 0.30, 0.22, 0.29, 0.23, 0.28, 0.24, 0.29, 0.22, 0.30, 0.23, 0.28, 0.24, 0.29, 0.23, 0.28,
                         0.24]

# grace default palette
colors = ["#000000", "#ff0000", "#00ff00", "#0000ff", "#ffff00", "#bc8f8f", "#dcdcdc",
          "#9400d3", "#00ffff", "#ff00ff", "#ffa500", "#7226d2", "#670748", "#40e0d0",
          "#008b00", "#000000", "#ff0000", "#00ff00", "#0000ff", "#ffff00", "#bc8f8f"]

series_a = [d149_od2_ne_r394, d104_o_nz_k388, d104_od2_nz_k388, d100_od2_ne1_w375,
            d100_od1_nz_k381, e93_oe1_nz_k379, d104_k383_vdw, d104_k388_vdw,
            d149_r394_vdw, y101_k381_vdw, d100_k379_vdw, d150_r391_vdw,
            l107_e387_vdw, r103_k388_vdw, t82_n380_vdw, v92_p334_vdw,
            p147_d398_vdw, q96_p334_vdw, c154_y395_vdw, h97_k381_cation_pi,
            r103_w375_cation_pi]
series_b = [d100_od2_ne2_h15, l107_l8_vdw, e108_l1_vdw, d100_l16_vdw, d100_l12_vdw,
            d104_l8_vdw, r103_e11_vdw, i152_h15_vdw, h97_w19_vdw, l83_w19_vdw,
            t82_m20_vdw, e93_w19_vdw, h97_ne2_w19_cation_pi]

# drawing order (bottom -> top); legend keeps the original order
order_a = [17, 6, 10, 13, 11, 7, 8, 14, 15, 16, 12, 18, 5, 20, 19, 1, 4, 9, 3, 2, 0]
order_b = [10, 2, 7, 5, 1, 0, 6, 8, 12, 4, 3, 9, 11]

grids = {201: t_fine, 101: t_mid, 51: t_lo}

fig = go.Figure()
LW = 2.4

for i in order_a:
    y = series_a[i]
    fig.add_trace(go.Scatter(x=grids[len(y)], y=y, mode="lines", name=names_a[i],
                             line=dict(color=colors[i], width=LW),
                             xaxis="x", yaxis="y", showlegend=False))

for i in order_b:
    y = series_b[i]
    fig.add_trace(go.Scatter(x=grids[len(y)], y=y, mode="lines", name=names_b[i],
                             line=dict(color=colors[i], width=LW),
                             xaxis="x2", yaxis="y2", showlegend=False))


# window pixel -> paper fraction
def px(x):
    return (x - OFF) / FW


def py(y):
    return 1 - (y - OFF) / FH


serif = "Liberation Serif, Times New Roman, serif"
tickfont = dict(family=serif, size=33, color="black")
axis_common = dict(showline=True, linecolor="black", linewidth=1.5, mirror="allticks",
                   ticks="inside", ticklen=15, tickwidth=1.5, tickcolor="black",
                   showgrid=False, zeroline=False, tickfont=tickfont, automargin=False)
minor_x = dict(ticks="inside", ticklen=8, dtick=5000, tickcolor="black", tickwidth=1.5)

fig.update_layout(
    template="none",
    width=FW, height=FH, margin=dict(l=0, r=0, t=0, b=0, pad=0, autoexpand=False),
    paper_bgcolor="white", plot_bgcolor="white", showlegend=False,
    xaxis=dict(domain=[px(105), px(713)], range=[0, 50000], dtick=10000, tickformat="d",
               ticklabelstandoff=-9, minor=minor_x, anchor="y", **axis_common),
    yaxis=dict(domain=[py(598), py(45)], range=[0, 0.8], dtick=0.2, ticklabelstandoff=-2,
               minor=dict(ticks="inside", ticklen=8, dtick=0.1, tickcolor="black", tickwidth=1.5),
               anchor="x", **axis_common),
    xaxis2=dict(domain=[px(110), px(702)], range=[0, 50000], dtick=10000, tickformat="d",
                ticklabelstandoff=-9, minor=minor_x, anchor="y2", **axis_common),
    yaxis2=dict(domain=[py(1258), py(720)], range=[0, 0.7], ticklabelstandoff=3,
                tickvals=[0, 0.1, 0.2, 0.3, 0.4, 0.5, 0.6],
                minor=dict(ticks="inside", ticklen=8,
                           tickvals=[0.05, 0.15, 0.25, 0.35, 0.45, 0.55, 0.65],
                           tickcolor="black", tickwidth=1.5),
                anchor="x2", **axis_common),
)

annotations = [
    dict(text="<b>a</b>", x=px(33), y=py(24), font=dict(family="Liberation Sans, Arial", size=30)),
    dict(text="<b>b</b>", x=px(33), y=py(697), font=dict(family="Liberation Sans, Arial", size=30)),
    dict(text="Distance (nm)", x=px(33), y=py(321), textangle=-90, font=dict(family=serif, size=40)),
    dict(text="Time (ps)", x=px(410), y=py(655), font=dict(family=serif, size=39)),
    dict(text="Distance (nm)", x=px(33), y=py(989), textangle=-90, font=dict(family=serif, size=40)),
    dict(text="Time (ps)", x=px(407), y=py(1307), font=dict(family=serif, size=39)),
]
for a in annotations:
    a.update(xref="paper", yref="paper", showarrow=False, xanchor="center", yanchor="middle")
    a["font"]["color"] = "black"

shapes = []


def draw_legend(names, box, y0, step, line_x, text_x, fsize):
    shapes.append(dict(type="rect", xref="paper", yref="paper",
                       x0=px(box[0]), x1=px(box[1]), y0=py(box[2]), y1=py(box[3]),
                       line=dict(color="black", width=1.5), fillcolor="white"))
    for k, name in enumerate(names):
        yy = y0 + k * step
        shapes.append(dict(type="line", xref="paper", yref="paper",
                           x0=px(line_x[0]), x1=px(line_x[1]), y0=py(yy), y1=py(yy),
                           line=dict(color=colors[k], width=2.5)))
        annotations.append(dict(text=name, xref="paper", yref="paper", x=px(text_x), y=py(yy),
                                xanchor="left", yanchor="middle", showarrow=False,
                                font=dict(family=serif, size=fsize, color="black")))


draw_legend(names_a, (720, 993, 60, 570), 76, 23.7, (730, 760), 777, 22)
draw_legend(names_b, (710, 993, 760, 1063), 775, 22.6, (718, 748), 765, 21.3)

fig.update_layout(annotations=annotations, shapes=shapes)

fig.write_html("out.html")
